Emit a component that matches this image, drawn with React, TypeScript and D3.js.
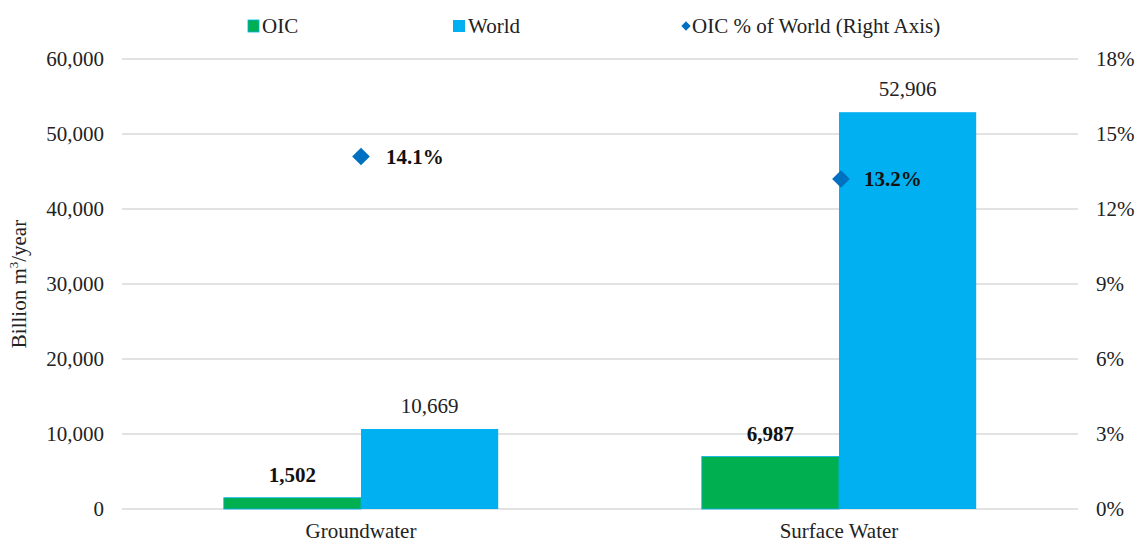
import React from "react";
import * as d3 from "d3";

const categories = ["Groundwater", "Surface Water"];
const oicValues = [1502, 6987];
const worldValues = [10669, 52906];
const sharePct = [14.1, 13.2];
const leftTicks = [0, 10000, 20000, 30000, 40000, 50000, 60000];
const rightTicks = [0, 3, 6, 9, 12, 15, 18];

const W = 1135, H = 542;
const M = { left: 122, right: 1078, top: 59, bottom: 509 };
const FONT = "Liberation Serif";
const GREEN = "#00B050", BLUE = "#00B0F0", DARK = "#0070C0";

export default function App() {
  const x = d3.scaleBand<string>().domain(categories).range([M.left, M.right]).paddingInner(0).paddingOuter(0);
  const yL = d3.scaleLinear().domain([0, 60000]).range([M.bottom, M.top]);
  const yR = d3.scaleLinear().domain([0, 18]).range([M.bottom, M.top]);
  const groupW = x.bandwidth() * 0.574;
  const barW = groupW / 2;
  const fmt = d3.format(",");
  const fs = 21;
  const diamond = d3.symbol().type(d3.symbolDiamond2).size(200)();
  const legendDiamond = d3.symbol().type(d3.symbolDiamond2).size(55)();

  return (
    <svg width={W} height={H} style={{ position: "absolute", left: 0, top: 0, background: "#fff", fontFamily: FONT }}>
      {leftTicks.map((t) => (
        <g key={t}>
          <line x1={M.left} x2={M.right} y1={yL(t)} y2={yL(t)} stroke="#d9d9d9" strokeWidth={1.3} />
          <text x={104} y={yL(t)} dy="0.35em" textAnchor="end" fontSize={fs} fill="#222">{fmt(t)}</text>
        </g>
      ))}
      {rightTicks.map((t) => (
        <text key={t} x={1096} y={yR(t)} dy="0.35em" textAnchor="start" fontSize={fs} fill="#222">{t}%</text>
      ))}
      <text transform={`translate(26,${(M.top + M.bottom) / 2}) rotate(-90)`} textAnchor="middle" fontSize={fs} fill="#222">
        Billion m<tspan dy="-8" fontSize={13}>3</tspan><tspan dy="8">/year</tspan>
      </text>
      {categories.map((c, i) => {
        const cx = x(c)! + x.bandwidth() / 2;
        const x0 = cx - barW;
        return (
          <g key={c}>
            <rect x={x0} y={yL(oicValues[i])} width={barW} height={yL(0) - yL(oicValues[i])} fill={GREEN} stroke={BLUE} strokeWidth={0.8} />
            <rect x={cx} y={yL(worldValues[i])} width={barW} height={yL(0) - yL(worldValues[i])} fill={BLUE} />
            <text x={x0 + barW / 2} y={yL(oicValues[i]) - 16} textAnchor="middle" fontSize={fs} fontWeight="bold" fill="#111">{fmt(oicValues[i])}</text>
            <text x={cx + barW / 2} y={yL(worldValues[i]) - 16} textAnchor="middle" fontSize={fs} fill="#222">{fmt(worldValues[i])}</text>
            <path d={diamond!} transform={`translate(${cx + (i === 1 ? 2 : 0)},${yR(sharePct[i])})`} fill={DARK} />
            <text x={cx + 25} y={yR(sharePct[i])} dy="0.35em" fontSize={fs} fontWeight="bold" fill="#111">{sharePct[i].toFixed(1)}%</text>
            <text x={cx} y={538} textAnchor="middle" fontSize={fs} fill="#222">{c}</text>
          </g>
        );
      })}
      <g>
        <rect x={248} y={20} width={11} height={12} fill={GREEN} stroke={BLUE} strokeWidth={0.8} />
        <text x={262} y={33} fontSize={fs} fill="#222">OIC</text>
        <rect x={453} y={20} width={12} height={12} fill={BLUE} />
        <text x={468} y={33} fontSize={fs} fill="#222">World</text>
        <path d={legendDiamond!} transform="translate(686,26)" fill={DARK} />
        <text x={692} y={33} fontSize={fs} fill="#222">OIC % of World (Right Axis)</text>
      </g>
    </svg>
  );
}
